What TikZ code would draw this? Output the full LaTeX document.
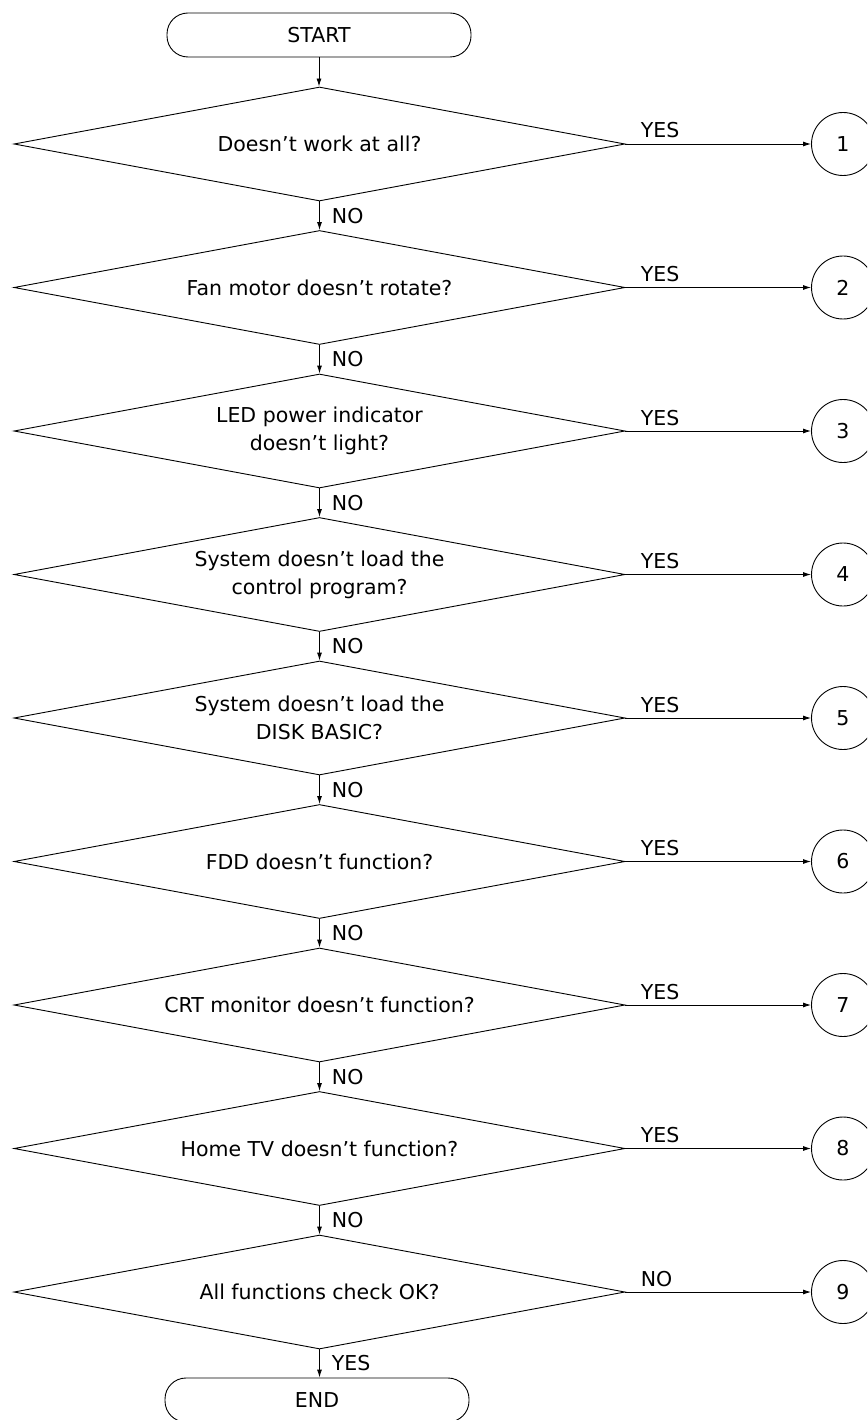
\documentclass[tikz,border=0pt]{standalone}
\usepackage{fontspec}
\setmainfont{DejaVu Sans}
\usetikzlibrary{shapes.geometric,arrows.meta}
\begin{document}
\begin{tikzpicture}[x=1pt,y=-1pt,
  every node/.style={font=\fontsize{20.5}{28}\selectfont},
  lw/.style={line width=0.9pt},
  term/.style={draw, lw, rectangle, rounded corners=21pt, minimum width=304pt, minimum height=44pt, inner sep=0},
  dec/.style={draw, lw, diamond, aspect=5.36, minimum width=611pt, minimum height=114pt, inner sep=0, align=center},
  conn/.style={draw, lw, circle, minimum size=63pt, inner sep=0},
  arr/.style={lw, -{Latex[length=8pt,width=5pt]}},
  nolab/.style={pos=0.5, anchor=west, inner sep=0, xshift=12pt},
  yeslab/.style={pos=0, anchor=base west, inner sep=0, xshift=15pt, yshift=6pt}
]
\useasboundingbox (0,0) rectangle (867,1420);
\clip (0,0) rectangle (867,1420);

\node[term] (start) at (319,35) {START};

\node[dec] (d1) at (319.5,144)   {Doesn’t work at all?};
\node[dec] (d2) at (319.5,287.5) {Fan motor doesn’t rotate?};
\node[dec] (d3) at (319.5,431)   {LED power indicator\\doesn’t light?};
\node[dec] (d4) at (319.5,574.5) {System doesn’t load the\\control program?};
\node[dec] (d5) at (319.5,718)   {System doesn’t load the\\DISK BASIC?};
\node[dec] (d6) at (319.5,861.5) {FDD doesn’t function?};
\node[dec] (d7) at (319.5,1005)  {CRT monitor doesn’t function?};
\node[dec] (d8) at (319.5,1148.5){Home TV doesn’t function?};
\node[dec] (d9) at (319.5,1292)  {All functions check OK?};

\node[term] (end) at (317,1400) {END};

\node[conn] (c1) at (843,144)    {1};
\node[conn] (c2) at (843,287.5)  {2};
\node[conn] (c3) at (843,431)    {3};
\node[conn] (c4) at (843,574.5)  {4};
\node[conn] (c5) at (843,718)    {5};
\node[conn] (c6) at (843,861.5)  {6};
\node[conn] (c7) at (843,1005)   {7};
\node[conn] (c8) at (843,1148.5) {8};
\node[conn] (c9) at (843,1292)   {9};

\draw[arr] (start.south) -- (start.south |- d1.north);
\draw[arr] (d1.south) -- node[nolab]{NO} (d2.north);
\draw[arr] (d2.south) -- node[nolab]{NO} (d3.north);
\draw[arr] (d3.south) -- node[nolab]{NO} (d4.north);
\draw[arr] (d4.south) -- node[nolab]{NO} (d5.north);
\draw[arr] (d5.south) -- node[nolab]{NO} (d6.north);
\draw[arr] (d6.south) -- node[nolab]{NO} (d7.north);
\draw[arr] (d7.south) -- node[nolab]{NO} (d8.north);
\draw[arr] (d8.south) -- node[nolab]{NO} (d9.north);
\draw[arr] (d9.south) -- node[nolab]{YES} (d9.south |- end.north);

\draw[arr] (d1.east) -- node[yeslab]{YES} (c1.west);
\draw[arr] (d2.east) -- node[yeslab]{YES} (c2.west);
\draw[arr] (d3.east) -- node[yeslab]{YES} (c3.west);
\draw[arr] (d4.east) -- node[yeslab]{YES} (c4.west);
\draw[arr] (d5.east) -- node[yeslab]{YES} (c5.west);
\draw[arr] (d6.east) -- node[yeslab]{YES} (c6.west);
\draw[arr] (d7.east) -- node[yeslab]{YES} (c7.west);
\draw[arr] (d8.east) -- node[yeslab]{YES} (c8.west);
\draw[arr] (d9.east) -- node[yeslab]{NO} (c9.west);
\end{tikzpicture}
\end{document}
